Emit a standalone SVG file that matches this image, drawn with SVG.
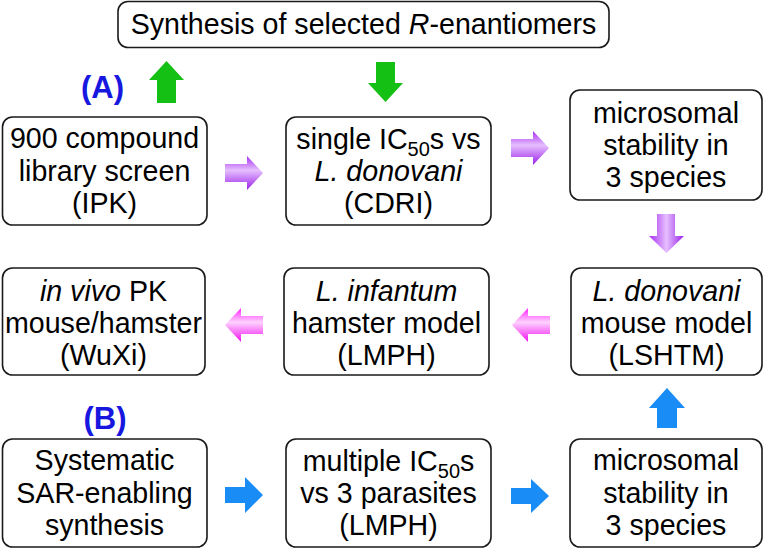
<svg xmlns="http://www.w3.org/2000/svg" width="763" height="549" viewBox="0 0 763 549">
<defs>
<style>
.box{fill:#fff;stroke:#1a1a1a;stroke-width:1.6}
.t{font-family:"Liberation Sans",Arial,sans-serif;font-size:28.6px;fill:#000;text-anchor:middle}
.i{font-style:italic}
.sub{font-size:20px}
.lab{font-family:"Liberation Sans",Arial,sans-serif;font-size:31px;font-weight:bold;fill:#1717e0;text-anchor:middle}
.green{fill:#14c014}
.blue{fill:#1a8cf5}
.purp{fill:url(#gP)}
.purpV{fill:url(#gPV)}
.pink{fill:url(#gK)}
</style>
<linearGradient id="gP" x1="0" y1="0" x2="0" y2="1">
<stop offset="0" stop-color="#a82ef0"/>
<stop offset="0.42" stop-color="#e6bfff"/>
<stop offset="1" stop-color="#9a1fe8"/>
</linearGradient>
<linearGradient id="gPV" x1="0" y1="0" x2="1" y2="0">
<stop offset="0" stop-color="#a82ef0"/>
<stop offset="0.5" stop-color="#e6bfff"/>
<stop offset="1" stop-color="#9a1fe8"/>
</linearGradient>
<linearGradient id="gK" x1="0" y1="0" x2="0" y2="1">
<stop offset="0" stop-color="#ff22ff"/>
<stop offset="0.42" stop-color="#ffd2ff"/>
<stop offset="1" stop-color="#ee10ee"/>
</linearGradient>
</defs>

<g id="connectors">
<polygon class="green" points="157,103 176,103 176,80 184,80 166.5,61 149,80 157,80"/>
<polygon class="green" points="376,62 395,62 395,83 403,83 385.5,102 368,83 376,83"/>
<polygon class="purp" points="225,164 247,164 247,156 263,173 247,190 247,182 225,182"/>
<polygon class="purp" points="511,139 533,139 533,131 549,148 533,165 533,157 511,157"/>
<polygon class="purpV" points="657,214 675,214 675,236 684,236 666.5,253 649,236 657,236"/>
<polygon class="pink" points="550,316 528,316 528,308 512,325 528,342 528,334 550,334"/>
<polygon class="pink" points="263,316 241,316 241,308 225,325 241,342 241,334 263,334"/>
<polygon class="blue" points="225,487 245,487 245,477 263,495 245,513 245,503 225,503"/>
<polygon class="blue" points="511,488 531,488 531,479 549,496 531,513 531,504 511,504"/>
<polygon class="blue" points="657,428 677,428 677,408 685,408 667,388 649,408 657,408"/>
</g>

<text class="lab" x="102.5" y="98">(A)</text>
<text class="lab" x="105" y="429">(B)</text>

<g id="n-synth">
<rect class="box" x="118" y="1.5" width="491" height="46" rx="10"/>
<text class="t" x="363.5" y="34">Synthesis of selected <tspan class="i">R</tspan>-enantiomers</text>
</g>

<g id="n-screen">
<rect class="box" x="2.5" y="117" width="204.5" height="108" rx="10"/>
<text class="t" x="104.5" y="148">900 compound</text>
<text class="t" x="104.5" y="181">library screen</text>
<text class="t" x="104.5" y="213">(IPK)</text>
</g>

<g id="n-single">
<rect class="box" x="286" y="117" width="205" height="108" rx="10"/>
<text class="t" x="388.5" y="149">single IC<tspan class="sub" baseline-shift="-7">50</tspan>s vs</text>
<text class="t i" x="388.5" y="181">L. donovani</text>
<text class="t" x="388.5" y="213">(CDRI)</text>
</g>

<g id="n-micro1">
<rect class="box" x="570" y="90" width="192" height="110" rx="10"/>
<text class="t" x="666" y="123">microsomal</text>
<text class="t" x="666" y="155">stability in</text>
<text class="t" x="666" y="187">3 species</text>
</g>

<g id="n-pk">
<rect class="box" x="2.5" y="268" width="202.5" height="107" rx="10"/>
<text class="t" x="103.5" y="301"><tspan class="i">in vivo</tspan> PK</text>
<text class="t" x="103.5" y="333">mouse/hamster</text>
<text class="t" x="103.5" y="365">(WuXi)</text>
</g>

<g id="n-infantum">
<rect class="box" x="284" y="268" width="205" height="107" rx="10"/>
<text class="t i" x="386.5" y="301">L. infantum</text>
<text class="t" x="386.5" y="333">hamster model</text>
<text class="t" x="386.5" y="365">(LMPH)</text>
</g>

<g id="n-donovani">
<rect class="box" x="571" y="268" width="191" height="107" rx="10"/>
<text class="t i" x="666.5" y="301">L. donovani</text>
<text class="t" x="666.5" y="333">mouse model</text>
<text class="t" x="666.5" y="365">(LSHTM)</text>
</g>

<g id="n-sar">
<rect class="box" x="2.5" y="439" width="204.5" height="108" rx="10"/>
<text class="t" x="104.5" y="470">Systematic</text>
<text class="t" x="104.5" y="503">SAR-enabling</text>
<text class="t" x="104.5" y="535">synthesis</text>
</g>

<g id="n-multiple">
<rect class="box" x="286" y="439" width="205" height="108" rx="10"/>
<text class="t" x="388.5" y="471">multiple IC<tspan class="sub" baseline-shift="-7">50</tspan>s</text>
<text class="t" x="388.5" y="503">vs 3 parasites</text>
<text class="t" x="388.5" y="535">(LMPH)</text>
</g>

<g id="n-micro2">
<rect class="box" x="570" y="439" width="192" height="108" rx="10"/>
<text class="t" x="666" y="470">microsomal</text>
<text class="t" x="666" y="503">stability in</text>
<text class="t" x="666" y="535">3 species</text>
</g>
</svg>
